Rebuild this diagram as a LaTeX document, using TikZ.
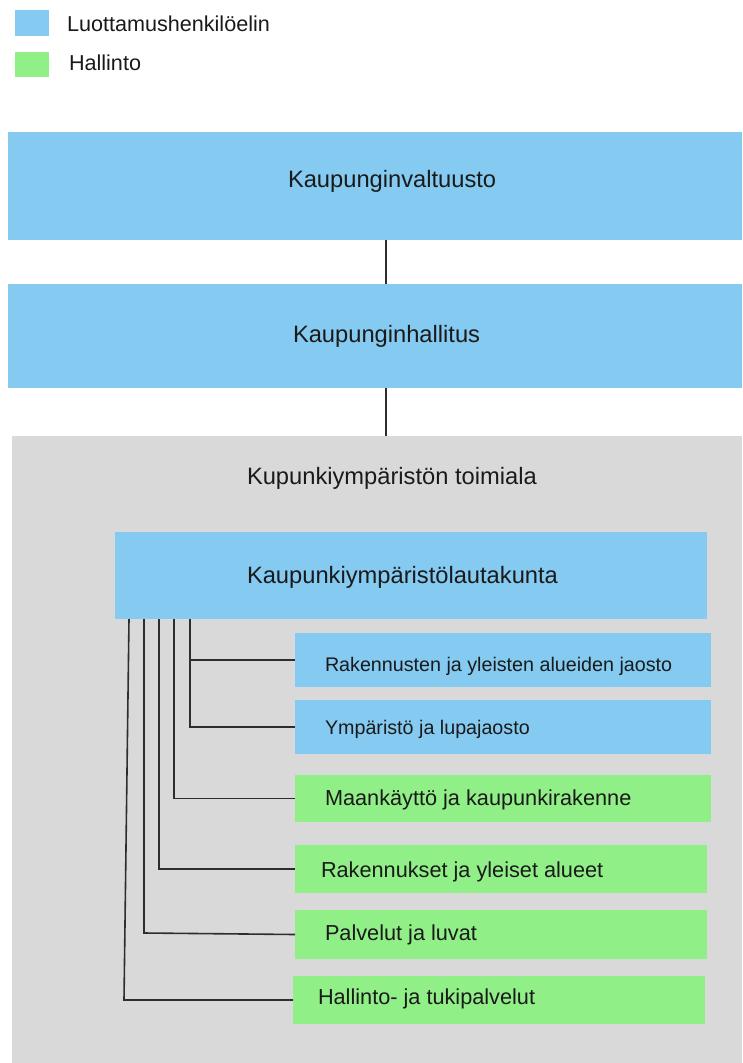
\documentclass[tikz,border=0pt]{standalone}
\usepackage{fontspec}
\setmainfont{Liberation Sans}
\definecolor{bl}{RGB}{132,202,241}
\definecolor{gr}{RGB}{145,239,135}
\definecolor{bg}{RGB}{217,217,217}
\definecolor{tx}{RGB}{26,26,26}
\definecolor{ln}{RGB}{45,45,45}
\begin{document}
\begin{tikzpicture}[x=1pt,y=-1pt,
  box/.style={rectangle,inner sep=0pt,outer sep=0pt,anchor=north west},
  bluebox/.style={box,fill=bl},
  greenbox/.style={box,fill=gr},
  graybox/.style={box,fill=bg},
  lbl/.style={anchor=base west,inner sep=0pt,outer sep=0pt,text=tx},
  big/.style={font=\fontsize{23.7}{28}\selectfont},
  mid/.style={font=\fontsize{21.7}{26}\selectfont},
  small/.style={font=\fontsize{19.7}{24}\selectfont},
  leg/.style={font=\fontsize{21.6}{26}\selectfont},
  conn/.style={draw=ln,line width=1.6pt},
  thin/.style={draw=ln,line width=1.4pt}
]
\useasboundingbox (0,0) rectangle (742,1063);
\fill[white] (0,0) rectangle (742,1063);

% legend
\node[bluebox,minimum width=34pt,minimum height=26pt] (lb) at (15,10) {};
\node[greenbox,minimum width=34pt,minimum height=25pt] (lg) at (15,52) {};
\node[lbl,leg] (lbt) at (67,31) {Luottamushenkilöelin};
\node[lbl,leg] (lgt) at (69,70) {Hallinto};

% top boxes
\node[bluebox,minimum width=734pt,minimum height=108pt] (kv) at (8,132) {};
\node[lbl,big] (kvt) at (288,187) {Kaupunginvaltuusto};
\node[bluebox,minimum width=734pt,minimum height=104pt] (kh) at (8,284) {};
\node[lbl,big] (kht) at (293,342) {Kaupunginhallitus};

% gray area
\node[graybox,minimum width=730pt,minimum height=627pt] (ta) at (12,436) {};
\node[lbl,big] (tat) at (247,484) {Kupunkiympäristön toimiala};

\draw[thin] ([xshift=11pt]kv.south) -- ([xshift=11pt]kh.north);
\draw[thin] ([xshift=11pt]kh.south) -- ([xshift=11pt]kh.south |- ta.north);

% lautakunta
\node[bluebox,minimum width=592pt,minimum height=87pt] (lk) at (115,532) {};
\node[lbl,big] (lkt) at (247,583) {Kaupunkiympäristölautakunta};

% children
\node[bluebox,minimum width=416pt,minimum height=54pt] (c1) at (295,633) {};
\node[lbl,small] (c1t) at (325,671) {Rakennusten ja yleisten alueiden jaosto};
\node[bluebox,minimum width=416pt,minimum height=54pt] (c2) at (295,700) {};
\node[lbl,small] (c2t) at (325,734) {Ympäristö ja lupajaosto};
\node[greenbox,minimum width=416pt,minimum height=47pt] (c3) at (295,775) {};
\node[lbl,mid] (c3t) at (325,805) {Maankäyttö ja kaupunkirakenne};
\node[greenbox,minimum width=412pt,minimum height=48pt] (c4) at (295,845) {};
\node[lbl,mid] (c4t) at (321,877) {Rakennukset ja yleiset alueet};
\node[greenbox,minimum width=412pt,minimum height=49pt] (c5) at (295,910) {};
\node[lbl,mid] (c5t) at (325,940) {Palvelut ja luvat};
\node[greenbox,minimum width=412pt,minimum height=48pt] (c6) at (293,976) {};
\node[lbl,mid] (c6t) at (318,1004) {Hallinto- ja tukipalvelut};

% tree connectors
\draw[conn] ([xshift=75pt]lk.south west) |- (c1.west);
\draw[conn] ([xshift=75pt]lk.south west) |- (c2.west);
\draw[conn] ([xshift=59pt]lk.south west) |- (c3.west);
\draw[conn] ([xshift=44pt]lk.south west) |- (c4.west);
\draw[conn] ([xshift=29pt]lk.south west) -- ([xshift=29pt,yshift=1.5pt]lk.south west |- c5.west) -- (c5.west);
\draw[conn] ([xshift=14pt]lk.south west) -- ([xshift=9pt]lk.south west |- c6.west) -- (c6.west);
\end{tikzpicture}
\end{document}
